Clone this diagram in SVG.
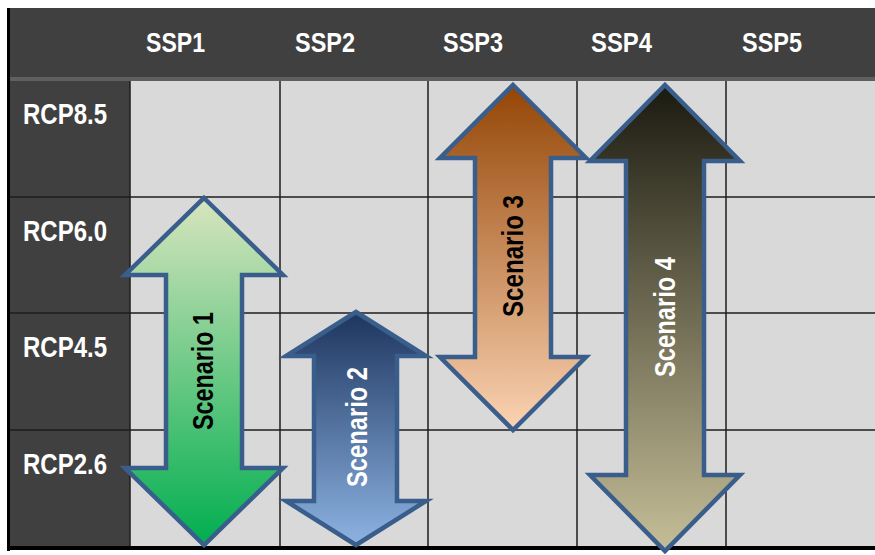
<svg xmlns="http://www.w3.org/2000/svg" width="875" height="555" viewBox="0 0 875 555">
  <style>
    .hdr { font-family: "Liberation Sans", Arial, sans-serif; font-weight: bold; font-size: 28px; fill: #ffffff; }
    .row { font-family: "Liberation Sans", Arial, sans-serif; font-weight: bold; font-size: 29px; fill: #ffffff; }
    .scn { font-family: "Liberation Sans", Arial, sans-serif; font-weight: bold; font-size: 30px; text-anchor: middle; }
    .grid { stroke: #1c1c1c; stroke-width: 1.5; fill: none; }
    .arrow { stroke: #3a5e8c; stroke-width: 4.5; stroke-linejoin: miter; }
  </style>
  <defs>
    <linearGradient id="g1" x1="0" y1="0" x2="0" y2="1">
      <stop offset="0" stop-color="#d8e5be"/>
      <stop offset="1" stop-color="#00ae4f"/>
    </linearGradient>
    <linearGradient id="g2" x1="0" y1="0" x2="0" y2="1">
      <stop offset="0" stop-color="#1d355f"/>
      <stop offset="1" stop-color="#8db3e2"/>
    </linearGradient>
    <linearGradient id="g3" x1="0" y1="0" x2="0" y2="1">
      <stop offset="0" stop-color="#944505"/>
      <stop offset="1" stop-color="#fbd3b3"/>
    </linearGradient>
    <linearGradient id="g4" x1="0" y1="0" x2="0" y2="1">
      <stop offset="0" stop-color="#1b1a10"/>
      <stop offset="1" stop-color="#c5be98"/>
    </linearGradient>
  </defs>

  <rect x="0" y="0" width="875" height="555" fill="#ffffff"/>

  <g id="table">
    <rect x="130" y="80" width="745" height="467" fill="#d9d9d9"/>
    <rect x="10" y="8" width="865" height="70" fill="#404040"/>
    <rect x="10" y="77" width="865" height="4" fill="#5f5f5f"/>
    <rect x="10" y="81" width="120" height="466" fill="#404040"/>
    <line class="grid" x1="10" y1="197" x2="875" y2="197"/>
    <line class="grid" x1="10" y1="313" x2="875" y2="313"/>
    <line class="grid" x1="10" y1="430" x2="875" y2="430"/>
    <line class="grid" x1="130" y1="81" x2="130" y2="547"/>
    <line class="grid" x1="280" y1="81" x2="280" y2="547"/>
    <line class="grid" x1="428" y1="81" x2="428" y2="547"/>
    <line class="grid" x1="577" y1="81" x2="577" y2="547"/>
    <line class="grid" x1="726" y1="81" x2="726" y2="547"/>
    <rect x="7" y="8" width="3" height="543" fill="#000000"/>
    <rect x="7" y="546" width="868" height="4" fill="#000000"/>
  </g>

  <g id="col-headers">
    <text class="hdr" x="146" y="52" textLength="59" lengthAdjust="spacingAndGlyphs">SSP1</text>
    <text class="hdr" x="295" y="52" textLength="60" lengthAdjust="spacingAndGlyphs">SSP2</text>
    <text class="hdr" x="443" y="52" textLength="60" lengthAdjust="spacingAndGlyphs">SSP3</text>
    <text class="hdr" x="591" y="52" textLength="61" lengthAdjust="spacingAndGlyphs">SSP4</text>
    <text class="hdr" x="742" y="52" textLength="60" lengthAdjust="spacingAndGlyphs">SSP5</text>
  </g>

  <g id="row-headers">
    <text class="row" x="23" y="124" textLength="84" lengthAdjust="spacingAndGlyphs">RCP8.5</text>
    <text class="row" x="23" y="241" textLength="84" lengthAdjust="spacingAndGlyphs">RCP6.0</text>
    <text class="row" x="23" y="357" textLength="84" lengthAdjust="spacingAndGlyphs">RCP4.5</text>
    <text class="row" x="23" y="474" textLength="84" lengthAdjust="spacingAndGlyphs">RCP2.6</text>
  </g>

  <g id="scenario1">
    <polygon class="arrow" fill="url(#g1)" points="204,198 283,275 242,275 242,468 283,468 204,545 125,468 166,468 166,275 125,275"/>
    <text class="scn" fill="#000000" transform="translate(213,371) rotate(-90)" textLength="118" lengthAdjust="spacingAndGlyphs">Scenario 1</text>
  </g>

  <g id="scenario2">
    <polygon class="arrow" fill="url(#g2)" points="356,312 426,356 397,356 397,501 426,501 356,545 286,501 314,501 314,356 286,356"/>
    <text class="scn" fill="#ffffff" transform="translate(367,427) rotate(-90)" textLength="120" lengthAdjust="spacingAndGlyphs">Scenario 2</text>
  </g>

  <g id="scenario3">
    <polygon class="arrow" fill="url(#g3)" points="513,85 586,158 551,158 551,357 586,357 513,430 440,357 475,357 475,158 440,158"/>
    <text class="scn" fill="#000000" transform="translate(523,256) rotate(-90)" textLength="122" lengthAdjust="spacingAndGlyphs">Scenario 3</text>
  </g>

  <g id="scenario4">
    <polygon class="arrow" fill="url(#g4)" points="665,85 740,161 704,161 704,475 740,475 665,551 590,475 626,475 626,161 590,161"/>
    <text class="scn" fill="#ffffff" transform="translate(675,317) rotate(-90)" textLength="120" lengthAdjust="spacingAndGlyphs">Scenario 4</text>
  </g>

  <g id="connectors"></g>
</svg>
